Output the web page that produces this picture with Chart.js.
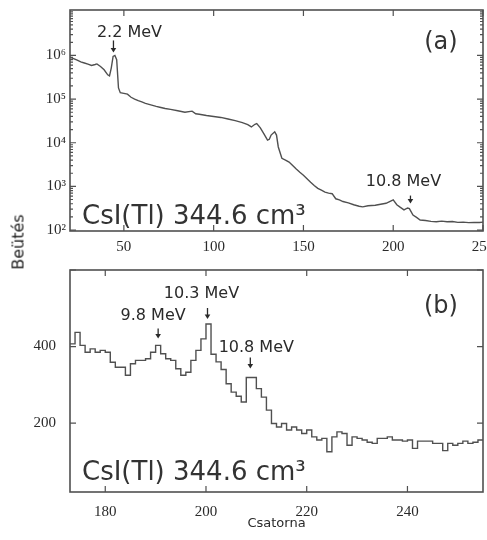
<!DOCTYPE html>
<html>
<head>
<meta charset="utf-8">
<script src="https://cdn.jsdelivr.net/npm/chart.js@4.4.0/dist/chart.umd.min.js"></script>
<style>
    html, body { margin: 0; padding: 0; background: #fff; }
    #doboz { position: relative; width: 487px; height: 540px; overflow: hidden; }
    canvas { position: absolute; left: 0; }
    #ycim {
        position: absolute; left: 18px; top: 242px;
        transform: translate(-50%, -50%) rotate(-90deg);
        font: 16px "DejaVu Sans", sans-serif; color: #222; white-space: nowrap;
    }
</style>
</head>
<body>
<div id="doboz">
    <canvas id="spektrumA" width="487" height="260" style="top:0"></canvas>
    <canvas id="spektrumB" width="487" height="280" style="top:260px"></canvas>
    <div id="ycim">Beütés</div>
</div>
<script>
// (a) teljes spektrum, logaritmikus skálán
const csatornaA = [20, 22, 24, 26, 28, 30, 32, 34, 35, 37, 39, 41, 42, 43, 44, 45, 46, 47, 48, 50,
    52, 54, 56, 58, 60, 62, 65, 68, 70, 73, 76, 80, 84, 88, 90, 92, 96, 100, 104, 108,
    112, 116, 119, 121, 123, 124, 126, 128, 130, 131, 132, 134, 135, 136, 138, 140, 142, 144, 146, 148,
    150, 152, 154, 156, 158, 160, 162, 164, 166, 168, 170, 172, 175, 178, 181, 183, 186, 190, 193, 196,
    198, 200, 202, 204, 206, 208, 209, 211, 213, 215, 218, 221, 224, 227, 230, 233, 236, 239, 242, 245,
    248, 250];
const beutesA = [910000, 850000, 780000, 710000, 670000, 630000, 590000, 620000, 640000, 560000, 470000, 360000, 340000, 520000, 950000, 1000000, 800000, 180000, 140000, 135000,
    130000, 110000, 100000, 92000, 86000, 80000, 74000, 68000, 65000, 61000, 58000, 54000, 50000, 53000, 46000, 45000, 42000, 40000, 38000, 35000,
    32000, 29000, 26000, 23000, 26500, 27500, 22000, 16000, 11500, 12000, 15000, 17800, 15000, 8000, 4400, 4000, 3600, 3000, 2500, 2100,
    1800, 1500, 1250, 1050, 900, 820, 740, 700, 680, 520, 490, 450, 420, 380, 350, 340, 360, 370, 390, 410,
    450, 490, 380, 330, 290, 320, 310, 220, 195, 170, 165, 158, 155, 160, 155, 157, 150, 152, 148, 150,
    149, 152];

// (b) a nagyenergiás rész, csatornánkénti hisztogram
const csatornaB = [173, 174, 175, 176, 177, 178, 179, 180, 181, 182, 183, 184, 185, 186, 187, 188, 189, 190, 191, 192,
    193, 194, 195, 196, 197, 198, 199, 200, 201, 202, 203, 204, 205, 206, 207, 208, 209, 210, 211, 212,
    213, 214, 215, 216, 217, 218, 219, 220, 221, 222, 223, 224, 225, 226, 227, 228, 229, 230, 231, 232,
    233, 234, 235, 236, 237, 238, 239, 240, 241, 242, 243, 244, 245, 246, 247, 248, 249, 250, 251, 252,
    253, 254];
const beutesB = [407, 437, 403, 385, 394, 385, 390, 385, 359, 346, 346, 325, 355, 364, 364, 368, 385, 403, 381, 368,
    364, 342, 325, 333, 364, 390, 420, 459, 380, 360, 340, 303, 281, 270, 255, 319, 319, 290, 268, 234,
    199, 190, 199, 182, 190, 182, 173, 182, 164, 156, 160, 125, 164, 177, 173, 142, 164, 160, 156, 150,
    147, 160, 160, 164, 156, 156, 153, 156, 134, 153, 153, 153, 147, 147, 128, 147, 142, 147, 153, 147,
    150, 156];

const xOsztasA = [50, 100, 150, 200, 250];
const yOsztasA = [1e2, 1e3, 1e4, 1e5, 1e6];
const yCimkeA = ['10²', '10³', '10⁴', '10⁵', '10⁶'];
const xOsztasB = [180, 200, 220, 240];
const yOsztasB = [200, 400, 600];

const jelolesA = [
    { szoveg: '2.2 MeV', csatorna: 44.2, dx: 16, res: 3, nyil: 12, tav: 8 },
    { szoveg: '10.8 MeV', csatorna: 209.6, dx: -7, res: 5, nyil: 8, tav: 14 }
];
const jelolesB = [
    { szoveg: '9.8 MeV', csatorna: 190.5, dx: -5, res: 7, nyil: 10, tav: 13 },
    { szoveg: '10.3 MeV', csatorna: 200.3, dx: -6, res: 5, nyil: 11, tav: 14 },
    { szoveg: '10.8 MeV', csatorna: 208.8, dx: 6, res: 9, nyil: 11, tav: 10 }
];

const VONAL = '#505050';
const SZOVEG = '#2a2a2a';

// befelé mutató osztásjelek, keret, feliratok és nyilak
const keretPlugin = {
    id: 'keret',
    afterDatasetsDraw(chart, args, o) {
        const { ctx, chartArea: a } = chart;
        const x = chart.scales.x, y = chart.scales.y;
        ctx.save();
        ctx.strokeStyle = VONAL;
        ctx.lineWidth = 1.2;
        ctx.beginPath();
        o.xFo.forEach(v => {
            const px = x.getPixelForValue(v);
            if (px < a.left || px > a.right) return;
            ctx.moveTo(px, a.bottom); ctx.lineTo(px, a.bottom - 6);
            ctx.moveTo(px, a.top); ctx.lineTo(px, a.top + 6);
        });
        o.yFo.forEach(v => {
            const py = y.getPixelForValue(v);
            if (py < a.top || py > a.bottom) return;
            ctx.moveTo(a.left, py); ctx.lineTo(a.left + 6, py);
            ctx.moveTo(a.right, py); ctx.lineTo(a.right - 6, py);
        });
        (o.yMellek || []).forEach(v => {
            const py = y.getPixelForValue(v);
            if (py < a.top || py > a.bottom) return;
            ctx.moveTo(a.left, py); ctx.lineTo(a.left + 3, py);
            ctx.moveTo(a.right, py); ctx.lineTo(a.right - 3, py);
        });
        ctx.stroke();

        ctx.lineWidth = 1.6;
        ctx.strokeRect(a.left, a.top, a.right - a.left, a.bottom - a.top);

        // csúcsok jelölése
        const adat = chart.data.datasets[0].data;
        ctx.fillStyle = SZOVEG;
        ctx.strokeStyle = SZOVEG;
        ctx.lineWidth = 1.3;
        ctx.font = '16px "DejaVu Sans", sans-serif';
        ctx.textAlign = 'center';
        ctx.textBaseline = 'middle';
        o.jelolesek.forEach(j => {
            let csucs = 0;
            adat.forEach(p => { if (Math.abs(p.x - j.csatorna) <= 1.5 && p.y > csucs) csucs = p.y; });
            const px = x.getPixelForValue(j.csatorna);
            const hegy = y.getPixelForValue(csucs) - j.res;
            const teto = hegy - j.nyil;
            ctx.beginPath();
            ctx.moveTo(px, teto); ctx.lineTo(px, hegy - 3);
            ctx.stroke();
            ctx.beginPath();
            ctx.moveTo(px - 2.8, hegy - 4.5); ctx.lineTo(px + 2.8, hegy - 4.5); ctx.lineTo(px, hegy);
            ctx.closePath();
            ctx.fill();
            ctx.fillText(j.szoveg, px + j.dx, teto - j.tav);
        });

        const w = a.right - a.left, h = a.bottom - a.top;
        ctx.fillStyle = '#333';
        ctx.font = '24px "DejaVu Sans", sans-serif';
        ctx.fillText(o.panel, a.left + w * 0.898, a.top + h * o.panelY);
        ctx.font = '26px "DejaVu Sans", sans-serif';
        ctx.textAlign = 'left';
        ctx.fillText('CsI(Tl) 344.6 cm³', a.left + 12, a.top + h * o.detektorY);
        ctx.restore();
    }
};

function rogzitY(szelesseg) {
    return scale => { scale.width = szelesseg; scale.paddingTop = 0; scale.paddingBottom = 0; };
}
function rogzitX(magassag) {
    return scale => { scale.height = magassag; scale.paddingLeft = 0; scale.paddingRight = 0; };
}

const tengelyBetu = { family: '"Liberation Serif", serif', size: 15 };

const mellekA = [];
yOsztasA.forEach(d => { for (let k = 2; k <= 9; k++) if (d * k < 1.1e7) mellekA.push(d * k); });
mellekA.push(1e7);

new Chart(document.getElementById('spektrumA').getContext('2d'), {
    type: 'line',
    data: {
        datasets: [{
            data: csatornaA.map((c, i) => ({ x: c, y: beutesA[i] })),
            borderColor: VONAL,
            borderWidth: 1.4,
            pointRadius: 0,
            tension: 0
        }]
    },
    options: {
        responsive: false,
        animation: false,
        layout: { padding: { top: 10, right: 4, left: 0, bottom: 0 } },
        plugins: {
            legend: { display: false },
            tooltip: { enabled: false },
            keret: {
                xFo: xOsztasA, yFo: yOsztasA, yMellek: mellekA,
                jelolesek: jelolesA, panel: '(a)', panelY: 0.149, detektorY: 0.937
            }
        },
        scales: {
            x: {
                type: 'linear', min: 20, max: 250,
                grid: { display: false, drawTicks: false },
                border: { display: false },
                afterBuildTicks: s => { s.ticks = xOsztasA.map(v => ({ value: v })); },
                afterFit: rogzitX(29),
                ticks: { color: SZOVEG, font: tengelyBetu, padding: 7, maxRotation: 0, autoSkip: false }
            },
            y: {
                type: 'logarithmic', min: 95, max: 1.1e7,
                grid: { display: false, drawTicks: false },
                border: { display: false },
                afterBuildTicks: s => { s.ticks = yOsztasA.map(v => ({ value: v })); },
                afterFit: rogzitY(70),
                ticks: {
                    color: SZOVEG, font: tengelyBetu, padding: 4, autoSkip: false,
                    callback: (v, i) => yCimkeA[i]
                }
            }
        }
    },
    plugins: [keretPlugin]
});

const pontokB = csatornaB.map((c, i) => ({ x: c, y: beutesB[i] }));
pontokB.push({ x: csatornaB[csatornaB.length - 1] + 1, y: beutesB[beutesB.length - 1] });

new Chart(document.getElementById('spektrumB').getContext('2d'), {
    type: 'line',
    data: {
        datasets: [{
            data: pontokB,
            borderColor: VONAL,
            borderWidth: 1.4,
            pointRadius: 0,
            stepped: 'before'
        }]
    },
    options: {
        responsive: false,
        animation: false,
        layout: { padding: { top: 10, right: 4, left: 0, bottom: 0 } },
        plugins: {
            legend: { display: false },
            tooltip: { enabled: false },
            keret: {
                xFo: xOsztasB, yFo: yOsztasB,
                jelolesek: jelolesB, panel: '(b)', panelY: 0.167, detektorY: 0.914
            }
        },
        scales: {
            x: {
                type: 'linear', min: 173, max: 255,
                grid: { display: false, drawTicks: false },
                border: { display: false },
                afterBuildTicks: s => { s.ticks = xOsztasB.map(v => ({ value: v })); },
                afterFit: rogzitX(48),
                ticks: { color: SZOVEG, font: tengelyBetu, padding: 11, maxRotation: 0, autoSkip: false },
                title: {
                    display: true, text: 'Csatorna', color: SZOVEG,
                    font: { family: '"DejaVu Sans", sans-serif', size: 13 },
                    padding: { top: 9, bottom: 9 }
                }
            },
            y: {
                type: 'linear', min: 20, max: 600,
                grid: { display: false, drawTicks: false },
                border: { display: false },
                afterBuildTicks: s => { s.ticks = yOsztasB.map(v => ({ value: v })); },
                afterFit: rogzitY(70),
                ticks: {
                    color: SZOVEG, font: tengelyBetu, padding: 14, autoSkip: false,
                    callback: v => (v === 600 ? '' : String(v))
                }
            }
        }
    },
    plugins: [keretPlugin]
});
</script>
</body>
</html>
